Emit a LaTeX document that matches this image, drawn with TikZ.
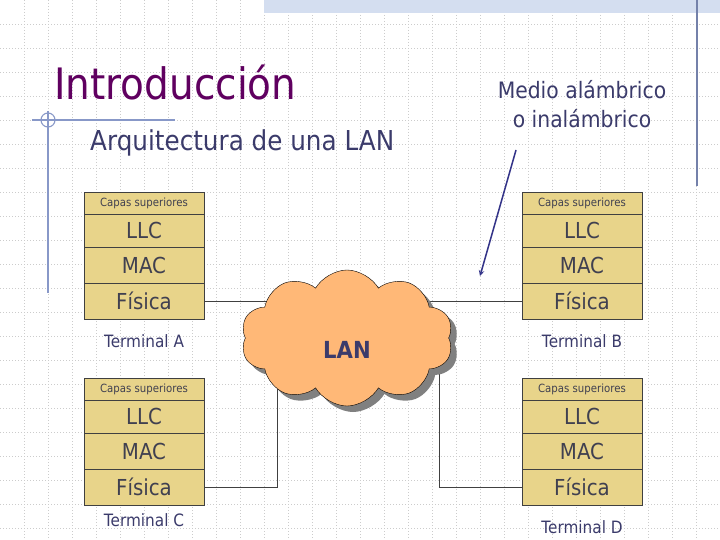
\documentclass[tikz,border=0pt]{standalone}
\usepackage{fontspec}
\setmainfont{DejaVu Sans}[FakeStretch=0.9]
\usetikzlibrary{positioning,shapes.symbols,shadows,backgrounds,arrows}
\definecolor{titulo}{RGB}{96,0,96}
\definecolor{azuloscuro}{RGB}{59,59,107}
\definecolor{textocaja}{RGB}{64,64,80}
\definecolor{caja}{RGB}{232,212,138}
\definecolor{nube}{RGB}{255,184,119}
\definecolor{adorno}{RGB}{136,152,200}
\definecolor{banda}{RGB}{212,222,240}
\definecolor{flechaazul}{RGB}{51,51,136}
\newcommand{\fs}[1]{\fontsize{#1}{1.3\dimexpr#1pt\relax}\selectfont}

% pila de capas: prefijo, x, y arriba, distancia etiqueta, etiqueta
\newcommand{\pila}[5]{%
  \node[capasup, anchor=north] (#1cap) at (#2,#3) {Capas superiores};
  \node[capa, minimum height=33pt, below=0pt of #1cap] (#1llc) {LLC};
  \node[capa, minimum height=36pt, below=0pt of #1llc] (#1mac) {MAC};
  \node[capa, minimum height=36pt, below=0pt of #1mac] (#1fis) {Física};
  \node[terminal, below=#4 of #1fis] (#1term) {#5};
}

\tikzset{
  capa/.style={draw=black!75, fill=caja, text=textocaja, minimum width=120pt,
    inner sep=0pt, outer sep=0pt, font=\fs{22}},
  capasup/.style={capa, minimum height=22pt, font=\fs{11.3}},
  terminal/.style={inner sep=0pt, text=azuloscuro, font=\fs{17}},
  rejilla/.style={black!20, line width=0.6pt, dash pattern=on 1pt off 2pt},
  adornolinea/.style={adorno, line width=1.1pt},
  cable/.style={black!75, line width=0.8pt},
  nubelan/.style={cloud, cloud puffs=10, cloud puff arc=120, aspect=1.55,
    draw=black, fill=nube, minimum width=212pt, minimum height=136pt,
    drop shadow={shadow xshift=6pt, shadow yshift=-6pt, fill=black!50, opacity=1},
    text=azuloscuro, font=\fs{23.5}\bfseries, text height=41pt},
  flecha/.style={flechaazul, line width=1.5pt, -stealth}
}

\begin{document}
\begin{tikzpicture}[x=1pt,y=-1pt]
  \useasboundingbox (0,0) rectangle (720,540);
  \begin{pgfonlayer}{background}
    \fill[white] (0,0) rectangle (720,540);
    \foreach \i in {24,48,...,720}
      \draw[rejilla] (\i,0) -- (\i,540);
    \foreach \j in {24,48,...,528}
      \draw[rejilla] (0,\j) -- (720,\j);
  \end{pgfonlayer}

  % adornos
  \fill[banda] (264,0) rectangle (720,13);
  \draw[adorno!85!black, line width=1.2pt] (697,0) -- (697,186);
  \draw[adornolinea] (32,120) -- (175,120);
  \draw[adornolinea] (48,111) -- (48,293);
  \draw[adornolinea] (48,120) circle (7);

  % titulos
  \node[anchor=base west, inner sep=0pt, text=titulo, font=\fs{43.3}] (titulo) at (54,100) {Introducción};
  \node[anchor=base west, inner sep=0pt, text=azuloscuro, font=\fs{27.4}] (subtitulo) at (90,151) {Arquitectura de una LAN};
  \node[align=center, inner sep=0pt, text=azuloscuro, font=\fontsize{22.6}{29}\selectfont] (medio) at (582,104) {Medio alámbrico\\o inalámbrico};

  % terminales
  \pila{a}{144}{192}{15.5pt}{Terminal A}
  \pila{b}{582}{192}{15.5pt}{Terminal B}
  \pila{c}{144}{378}{8.5pt}{Terminal C}
  \pila{d}{582}{378}{15.5pt}{Terminal D}

  % red
  \node[nubelan] (lan) at (347,338) {LAN};

  \coordinate (inicio) at (516,150);
  \coordinate (punta) at (480,276);
  \draw[flecha] (inicio) -- (punta);

  \begin{pgfonlayer}{background}
    \draw[cable] (afis.east) -- (afis.east -| lan.center);
    \draw[cable] (bfis.west) -- (bfis.west -| lan.center);
    \draw[cable] (cfis.east) -| ([xshift=-70pt]lan.center);
    \draw[cable] (dfis.west) -| ([xshift=92pt]lan.center);
  \end{pgfonlayer}
\end{tikzpicture}
\end{document}
